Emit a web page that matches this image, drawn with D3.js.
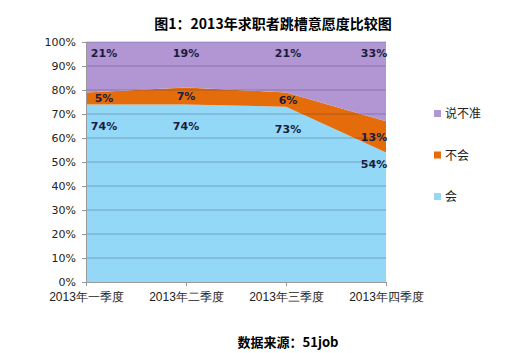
<!DOCTYPE html>
<html>
<head>
<meta charset="utf-8">
<script src="https://cdn.jsdelivr.net/npm/d3@7"></script>
<style>
  body { margin: 0; background: #fff; }
  svg { display: block; font-family: "Noto Sans CJK SC", "DejaVu Sans", sans-serif; }
</style>
</head>
<body>
<div id="chart"></div>
<script>
// data
var quarters = ["2013年一季度", "2013年二季度", "2013年三季度", "2013年四季度"];
var hui = [74, 74, 73, 54];        // 会
var buhui = [5, 7, 6, 13];         // 不会
var shuobuzhun = [21, 19, 21, 33]; // 说不准
var seriesNames = ["会", "不会", "说不准"];
var yTicks = [0, 10, 20, 30, 40, 50, 60, 70, 80, 90, 100];

var colors = { "会": "#93d9f7", "不会": "#e46c0a", "说不准": "#b196d3" };

var W = 513, H = 353;
var margin = { top: 42, left: 86, right: 127, bottom: 71 };
var width = W - margin.left - margin.right,
    height = H - margin.top - margin.bottom;

var svg = d3.select("#chart").append("svg")
  .attr("width", W)
  .attr("height", H);

// title
svg.append("text")
  .attr("x", 273).attr("y", 29)
  .attr("text-anchor", "middle")
  .style("font-size", "14px").style("font-weight", "bold")
  .text("图1：2013年求职者跳槽意愿度比较图");

var g = svg.append("g")
  .attr("transform", "translate(" + margin.left + "," + margin.top + ")");

var x = d3.scalePoint().domain(quarters).range([0, width]);
var y = d3.scaleLinear().domain([0, 100]).range([height, 0]);

// build stack table
var table = quarters.map(function(q, i) {
  return { q: q, "会": hui[i], "不会": buhui[i], "说不准": shuobuzhun[i] };
});
var stack = d3.stack().keys(seriesNames)(table);

var area = d3.area()
  .x(function(d) { return x(d.data.q); })
  .y0(function(d) { return y(d[0]); })
  .y1(function(d) { return y(d[1]); });

g.selectAll(".layer")
  .data(stack)
  .enter().append("path")
  .attr("class", "layer")
  .attr("d", area)
  .attr("fill", function(d) { return colors[d.key]; });

// gridlines on top (visible through fills like in the picture)
g.selectAll(".grid")
  .data(yTicks.slice(1))
  .enter().append("line")
  .attr("x1", 0).attr("x2", width)
  .attr("y1", function(d) { return y(d); })
  .attr("y2", function(d) { return y(d); })
  .attr("stroke", "#3c3c64")
  .attr("stroke-opacity", 0.35)
  .attr("stroke-width", 1);

// y axis
var yAxis = g.append("g")
  .call(d3.axisLeft(y).tickValues(yTicks).tickSize(4).tickPadding(6)
    .tickFormat(function(d) { return d + "%"; }));
yAxis.select(".domain").attr("stroke", "#999");
yAxis.selectAll(".tick line").attr("stroke", "#999");
yAxis.selectAll("text")
  .style("font-size", "11px").style("font-family", "'DejaVu Sans', sans-serif")
  .attr("fill", "#222");

// x axis
var xAxis = g.append("g")
  .attr("transform", "translate(0," + height + ")")
  .call(d3.axisBottom(x).tickSize(4).tickPadding(6));
xAxis.select(".domain").attr("stroke", "#999");
xAxis.selectAll(".tick line").attr("stroke", "#999");
xAxis.selectAll("text")
  .style("font-size", "12px")
  .attr("fill", "#222");

// data labels
var labelDx = [18, 0, 2, -12];
stack.forEach(function(layer) {
  g.selectAll(".lbl-" + layer.key)
    .data(layer)
    .enter().append("text")
    .attr("x", function(d, i) { return x(d.data.q) + labelDx[i]; })
    .attr("y", function(d, i) {
      var mid = (y(d[0]) + y(d[1])) / 2;
      if (layer.key === "会") return (i === 3 ? y(d[1]) + 16 : y(d[1]) + 26);
      if (layer.key === "说不准") return y(d[1]) + 15;
      return mid + 4;
    })
    .attr("text-anchor", "middle")
    .style("font-size", "11px").style("font-weight", "bold")
    .style("font-family", "'DejaVu Sans', sans-serif")
    .attr("fill", "#1c1c3c")
    .text(function(d) { return (d.data[layer.key]) + "%"; });
});

// legend
var legend = svg.append("g").attr("transform", "translate(434,0)");
var legendItems = ["说不准", "不会", "会"];
var legendY = d3.scalePoint().domain(legendItems).range([114, 197]);
legendItems.forEach(function(k) {
  legend.append("rect")
    .attr("x", 0).attr("y", legendY(k) - 4)
    .attr("width", 7).attr("height", 7)
    .attr("fill", colors[k]);
  legend.append("text")
    .attr("x", 11).attr("y", legendY(k) + 4)
    .style("font-size", "12px")
    .attr("fill", "#222")
    .text(k);
});

// source
svg.append("text")
  .attr("x", 288).attr("y", 347)
  .attr("text-anchor", "middle")
  .style("font-size", "13px").style("font-weight", "bold")
  .text("数据来源：51job");
</script>
</body>
</html>
